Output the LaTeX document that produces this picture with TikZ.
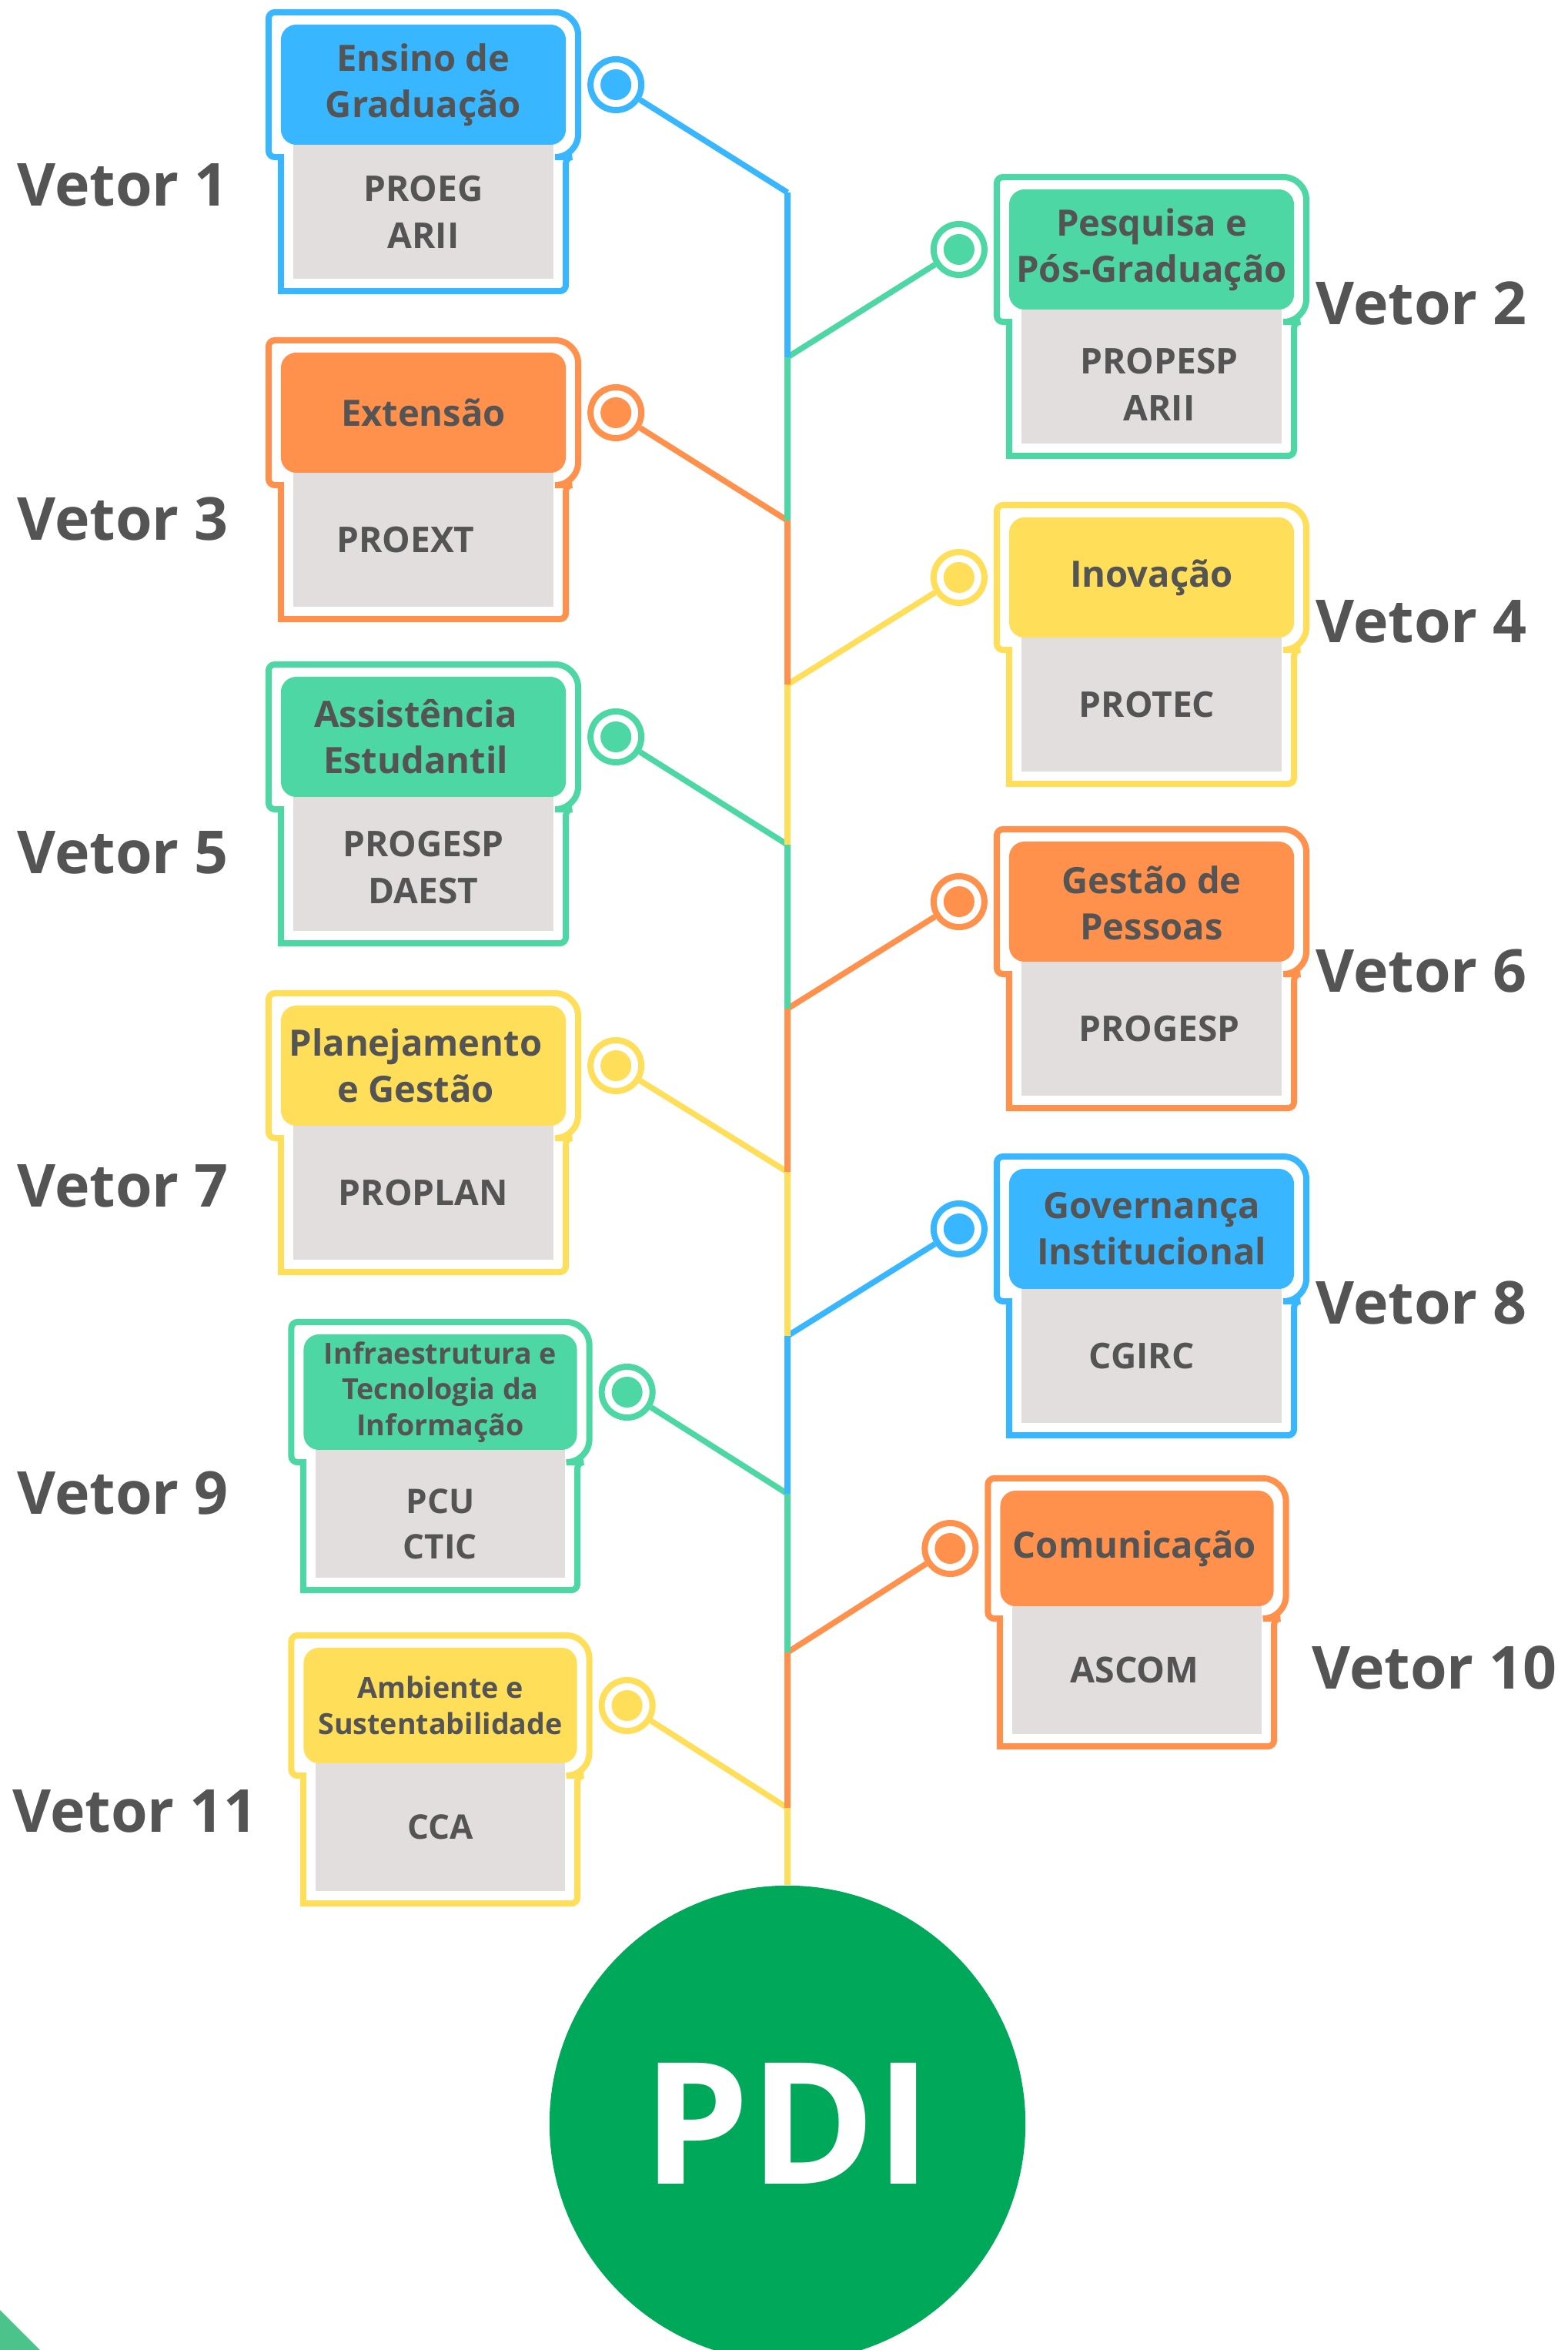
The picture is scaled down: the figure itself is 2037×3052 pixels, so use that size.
\documentclass[tikz,border=0pt]{standalone}
\usepackage{fontspec}
\setmainfont{Open Sans}
\usepackage{tikz}
\usetikzlibrary{positioning}
\usetikzlibrary{calc}

\definecolor{cblue}{HTML}{38B6FF}
\definecolor{cgreen}{HTML}{4CD7A4}
\definecolor{corange}{HTML}{FF914D}
\definecolor{cyellow}{HTML}{FFDE59}
\definecolor{cgray}{HTML}{E3DEDE}
\definecolor{ctext}{HTML}{545454}
\definecolor{cpdi}{HTML}{00A859}
\definecolor{ctri}{HTML}{4CC38A}

\tikzstyle{headL}=[rectangle,rounded corners=0.2cm,minimum width=3.7cm,minimum height=1.56cm,inner sep=0pt,outer sep=0pt,align=center,text=ctext,font=\bfseries\fontsize{13.4pt}{17.1pt}\selectfont]
\tikzstyle{headS}=[headL,minimum width=3.55cm,minimum height=1.5cm,font=\bfseries\fontsize{10.7pt}{13.3pt}\selectfont]
\tikzstyle{bodyL}=[rectangle,fill=cgray,minimum width=3.38cm,minimum height=1.74cm,inner sep=0pt,outer sep=0pt,align=center,text=ctext,font=\bfseries\fontsize{13.1pt}{17.4pt}\selectfont]
\tikzstyle{bodyS}=[bodyL,minimum width=3.24cm,minimum height=1.66cm,font=\bfseries\fontsize{12.5pt}{16.8pt}\selectfont]
\tikzstyle{ring}=[circle,draw,fill=white,line width=0.08cm,minimum size=0.66cm,inner sep=0pt]
\tikzstyle{dot}=[circle,minimum size=0.4cm,inner sep=0pt]
\tikzstyle{link}=[line width=0.075cm]
\tikzstyle{boxline}=[line width=0.08cm]
\tikzstyle{vetor}=[anchor=west,inner sep=0pt,text=ctext,font=\bfseries\fontsize{21.9pt}{26pt}\selectfont]

\begin{document}
\begin{tikzpicture}[x=0.01cm,y=-0.01cm]

  \path[use as bounding box,clip] (0,0) rectangle (2037,3052);

  % boxes, dots and branches
  \foreach \x/\y/\name/\sz/\col/\side/\jy/\head/\body in {
      550/110/1/L/cblue/right/250/{Ensino de\\Graduação}/{PROEG\\ARII},
      1496/324/2/L/cgreen/left/464/{Pesquisa e\\Pós-Graduação}/{\hspace*{0.2cm}\rule{0pt}{0.53cm}PROPESP\\\hspace*{0.2cm}ARII},
      550/536/3/L/corange/right/676/{Extensão}/{PROEXT\hspace*{0.46cm}},
      1496/750/4/L/cyellow/left/889/{Inovação}/{PROTEC\hspace*{0.12cm}},
      550/957/5/L/cgreen/right/1097/{Assistência\hspace*{0.2cm}\\Estudantil\hspace*{0.2cm}}/{\rule{0pt}{0.43cm}PROGESP\\DAEST},
      1496/1171/6/L/corange/left/1310/{\rule{0pt}{0.4cm}Gestão de\\Pessoas}/{\hspace*{0.2cm}PROGESP},
      550/1384/7/L/cyellow/right/1522/{Planejamento\hspace*{0.2cm}\\e Gestão\hspace*{0.2cm}}/{PROPLAN},
      1496/1596/8/L/cblue/left/1735/{Governança\\Institucional}/{CGIRC\hspace*{0.26cm}},
      572/1808/9/S/cgreen/right/1940/{Infraestrutura e\\Tecnologia da\\Informação}/{\rule{0pt}{0.59cm}PCU\\CTIC},
      1477/2011/10/S/corange/left/2146/{\fontsize{13.4pt}{17pt}\selectfont Comunicação\hspace*{0.06cm}}/{\fontsize{13.2pt}{17pt}\selectfont ASCOM\hspace*{0.06cm}},
      572/2215/11/S/cyellow/right/2348/{Ambiente e\\Sustentabilidade}/{CCA}}
  {
    \node[head\sz,fill=\col] (h\name) at (\x,\y) {\head};
    \node[body\sz,below=0pt of h\name] (g\name) {\body};
    \draw[boxline,draw=\col] ($(g\name.south west)+(-16,16)$) -- ($(g\name.north west)+(-16,16)$)
      [rounded corners=0.08cm] -- ($(h\name.south west)+(-16,16)$)
      -- ($(h\name.north west)+(-16,-16)$) [rounded corners=0.3cm]
      -- ($(h\name.north east)+(16,-16)$) -- ($(h\name.south east)+(16,16)$) [rounded corners=0.08cm]
      -- ($(g\name.north east)+(16,16)$) -- ($(g\name.south east)+(16,16)$) [sharp corners] -- cycle;
    \node[ring,draw=\col,\side=0.28cm of h\name] (r\name) {};
    \node[dot,fill=\col] (d\name) at (r\name) {};
    \coordinate (j\name) at (1023,\jy);
    \draw[link,\col] (r\name) -- (j\name);
  }

  % PDI
  \node[circle,fill=cpdi,minimum size=6.18cm,inner sep=0pt,text=white,font=\bfseries\fontsize{62.6pt}{70pt}\selectfont] (pdi) at (1023,2758) {PDI};

  % spine
  \foreach \a/\b/\col in {1/2/cblue,2/3/cgreen,3/4/corange,4/5/cyellow,5/6/cgreen,6/7/corange,7/8/cyellow,8/9/cblue,9/10/cgreen,10/11/corange}
    \draw[link,\col] (j\a) -- (j\b);
  \draw[link,cyellow] (j11) -- (pdi.north);

  % labels
  \foreach \x/\y/\name/\label in {22/240/1/1, 1709/394/2/2, 22/674/3/3, 1709/807/4/4, 22/1107/5/5, 1709/1261/6/6, 22/1540/7/7, 1709/1692/8/8, 22/1939/9/9, 1704/2166/10/10, 16/2352/11/11}
    \node[vetor] (vet\name) at (\x,\y) {Vetor \label};

  \fill[ctri] (0,3000) -- (52,3052) -- (0,3052) -- cycle;

\end{tikzpicture}
\end{document}
